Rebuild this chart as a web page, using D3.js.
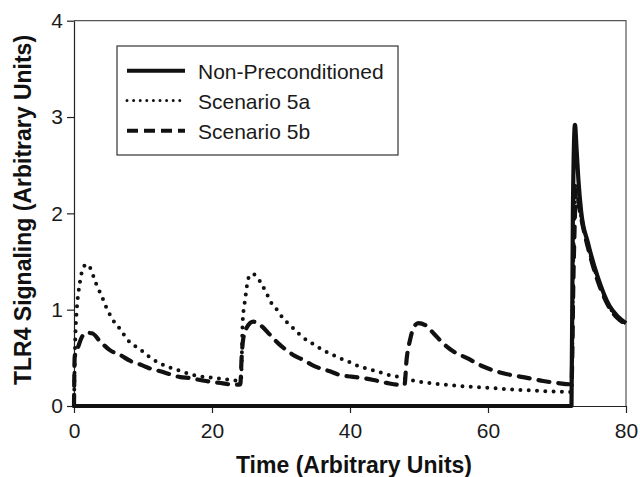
<!DOCTYPE html>
<html>
<head>
<meta charset="utf-8">
<script src="https://cdn.jsdelivr.net/npm/d3@7"></script>
<style>
  body { margin: 0; background: #fff; }
  svg { display: block; }
</style>
</head>
<body>
<div id="graph"></div>
<script>
// values: [time, signaling]
const nonPreconditioned = [
  [0, 0], [72.1, 0], [72.3, 2.0], [72.6, 2.92], [72.85, 2.65], [73.1, 2.35],
  [73.5, 2.02], [74.5, 1.69], [75.9, 1.34], [77.6, 1.04], [78.8, 0.93], [80, 0.86]
];

const scenario5a = [
  [0, 0], [0.15, 0.6], [0.4, 1.0], [0.63, 1.17], [0.87, 1.29], [1.3, 1.43], [1.8, 1.47],
  [2.2, 1.45], [3.2, 1.27], [3.7, 1.19], [4.2, 1.11], [4.7, 1.02], [5.2, 0.95],
  [5.9, 0.865], [6.8, 0.79], [7.6, 0.7], [8.7, 0.63], [10, 0.565], [11, 0.505],
  [12.1, 0.457], [13.3, 0.415], [14.5, 0.384], [15.6, 0.36], [16.8, 0.33], [18, 0.31],
  [19.2, 0.3], [20.4, 0.29], [21.6, 0.28], [23.5, 0.265], [24.2, 0.27],
  [24.45, 0.88], [24.6, 1.01], [24.8, 1.1], [25.0, 1.22], [25.5, 1.36], [26.0, 1.37],
  [26.6, 1.33], [27.9, 1.17], [28.6, 1.07], [29.4, 1.0], [30.3, 0.91], [31.3, 0.84],
  [32.5, 0.755], [33.7, 0.685], [34.9, 0.633], [36.1, 0.58], [37.3, 0.537], [38.6, 0.495],
  [39.8, 0.46], [41.4, 0.41], [43.4, 0.37], [44.8, 0.34], [46, 0.315], [47.2, 0.3],
  [49.4, 0.26], [51.8, 0.235], [55.5, 0.21], [58.8, 0.195], [62.7, 0.175], [66, 0.162],
  [69.5, 0.15], [72.1, 0.145], [72.35, 1.5], [72.7, 2.3], [73.0, 2.2], [73.5, 1.97],
  [74.5, 1.66], [75.9, 1.32], [77.6, 1.03], [78.8, 0.92], [80, 0.85]
];

const scenario5b = [
  [0, 0], [0.1, 0.51], [0.63, 0.62], [1.1, 0.71], [1.8, 0.76], [2.6, 0.755], [3.8, 0.67],
  [5.2, 0.58], [6.7, 0.53], [8.1, 0.47], [9.6, 0.43], [11, 0.39], [12.5, 0.36],
  [13.9, 0.33], [15.4, 0.3], [16.8, 0.29], [18.3, 0.27], [19.9, 0.25], [21.6, 0.235],
  [23.1, 0.22], [24.1, 0.225], [24.3, 0.51], [24.5, 0.685], [25.0, 0.81], [26.0, 0.875],
  [27.0, 0.84], [28.4, 0.74], [29.6, 0.65], [30.8, 0.58], [32, 0.52], [33.2, 0.48],
  [34.4, 0.43], [35.7, 0.39], [37.1, 0.36], [38.6, 0.32], [40.2, 0.305], [41.9, 0.29],
  [43.4, 0.27], [45.3, 0.24], [47.2, 0.22], [47.9, 0.22], [48.2, 0.48], [48.7, 0.685],
  [49.2, 0.81], [49.9, 0.86], [50.9, 0.84], [52.1, 0.755], [53.5, 0.65], [55, 0.565],
  [56.9, 0.5], [59.3, 0.41], [62.2, 0.34], [65.1, 0.3], [68, 0.26], [70.4, 0.235],
  [72.1, 0.225], [72.4, 1.4], [72.8, 2.25], [73.1, 2.12], [73.6, 1.92], [74.5, 1.64],
  [75.9, 1.3], [77.6, 1.02], [78.8, 0.91], [80, 0.85]
];

const seriesNames = ["Non-Preconditioned", "Scenario 5a", "Scenario 5b"];
const xTicks = [0, 20, 40, 60, 80];
const yTicks = [0, 1, 2, 3, 4];

function drawChart(fullWidth, fullHeight) {
  const margin = { top: 20.7, right: 14, bottom: 71, left: 74 };
  const width = fullWidth - margin.left - margin.right;
  const height = fullHeight - margin.top - margin.bottom;

  const svg = d3.select("#graph").append("svg")
    .attr("width", fullWidth)
    .attr("height", fullHeight)
    .style("font-family", "'Liberation Sans', Arial, sans-serif");

  const g = svg.append("g")
    .attr("transform", "translate(" + margin.left + "," + margin.top + ")");

  const x = d3.scaleLinear().domain([0, 80]).range([0, width]);
  const y = d3.scaleLinear().domain([0, 4]).range([height, 0]);

  // frame top/right
  g.append("path")
    .attr("d", "M0,0H" + width + "V" + height)
    .attr("fill", "none")
    .attr("stroke", "#555")
    .attr("stroke-width", 1.2);

  const xAxis = g.append("g")
    .attr("transform", "translate(0," + height + ")")
    .call(d3.axisBottom(x).tickValues(xTicks).tickSize(7).tickSizeOuter(0).tickPadding(10)
      .tickFormat(d3.format("d")));

  const yAxis = g.append("g")
    .call(d3.axisLeft(y).tickValues(yTicks).tickSize(7).tickSizeOuter(0).tickPadding(4)
      .tickFormat(d3.format("d")));

  [xAxis, yAxis].forEach(function(a) {
    a.selectAll("path, line").attr("stroke", "#222").attr("stroke-width", 1.2);
    a.selectAll("text").attr("fill", "#1a1a1a").style("font-size", "21px").style("font-family", null);
  });

  const line = d3.line()
    .x(function(d) { return x(d[0]); })
    .y(function(d) { return y(d[1]); })
    .curve(d3.curveMonotoneX);

  const styles = [
    { w: 4.2, dash: null, cap: "butt" },
    { w: 4, dash: "0 8.3", cap: "round" },
    { w: 4.2, dash: "11 9", cap: "round" }
  ];

  const allData = [nonPreconditioned, scenario5a, scenario5b];

  // draw dashed and dotted first, solid on top
  [1, 2, 0].forEach(function(i) {
    g.append("path")
      .datum(allData[i])
      .attr("d", line)
      .attr("fill", "none")
      .attr("stroke", "#111")
      .attr("stroke-width", styles[i].w)
      .attr("stroke-linecap", styles[i].cap)
      .attr("stroke-linejoin", "round")
      .attr("stroke-dasharray", styles[i].dash);
  });

  // legend
  const legend = svg.append("g").attr("transform", "translate(117,46)");
  legend.append("rect")
    .attr("width", 281)
    .attr("height", 109)
    .attr("fill", "#fff")
    .attr("stroke", "#333")
    .attr("stroke-width", 1.2);

  const legendStyles = [
    { w: 4, dash: null, cap: "butt" },
    { w: 3, dash: "0 6.6", cap: "round" },
    { w: 4, dash: "11 6", cap: "butt" }
  ];
  const rowY = [24.7, 54.5, 84.7];

  seriesNames.forEach(function(name, i) {
    legend.append("line")
      .attr("x1", 10).attr("x2", 68)
      .attr("y1", rowY[i]).attr("y2", rowY[i])
      .attr("stroke", "#111")
      .attr("stroke-width", legendStyles[i].w)
      .attr("stroke-linecap", legendStyles[i].cap)
      .attr("stroke-dasharray", legendStyles[i].dash);
    legend.append("text")
      .attr("x", 81)
      .attr("y", rowY[i] + 8.2)
      .attr("fill", "#1a1a1a")
      .style("font-size", "21px")
      .text(name);
  });

  // axis titles
  svg.append("text")
    .attr("x", 354)
    .attr("y", 473)
    .attr("text-anchor", "middle")
    .attr("fill", "#111")
    .style("font-size", "23px")
    .style("font-weight", "bold")
    .text("Time (Arbitrary Units)");

  svg.append("text")
    .attr("transform", "translate(31,210) rotate(-90)")
    .attr("text-anchor", "middle")
    .attr("fill", "#111")
    .style("font-size", "23px")
    .style("font-weight", "bold")
    .text("TLR4 Signaling (Arbitrary Units)");
}

drawChart(640, 477);
</script>
</body>
</html>
